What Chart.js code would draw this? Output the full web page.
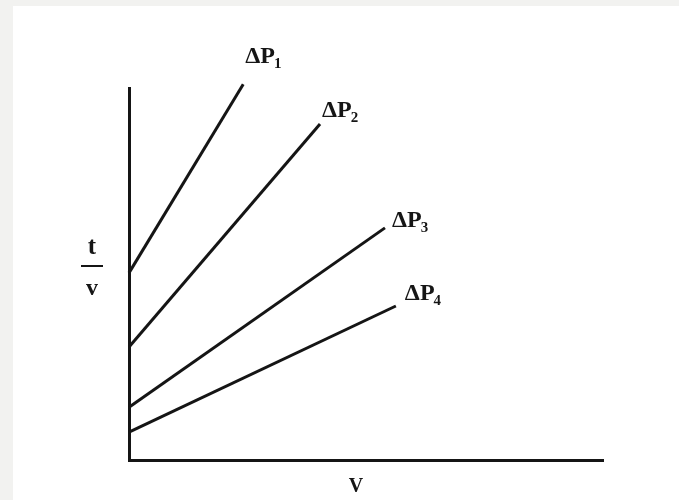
<!DOCTYPE html>
<html>
<head>
<meta charset="utf-8">
<script src="https://cdn.jsdelivr.net/npm/chart.js@4"></script>
<style>
  html, body { margin: 0; padding: 0; background: #f2f2f0; }
  #wrap { position: absolute; left: 0; top: 0; width: 679px; height: 500px; }
</style>
</head>
<body>
<div id="wrap"><canvas id="myChart" width="679" height="500"></canvas></div>
<script>
// datos: cada recta va desde el eje t/v hasta su extremo
const subscripts = ['1', '2', '3', '4'];
const dp1 = [{ x: 0, y: 5.03 }, { x: 2.41, y: 10.1 }];
const dp2 = [{ x: 0, y: 3.04 }, { x: 4.03, y: 9.03 }];
const dp3 = [{ x: 0, y: 1.42 }, { x: 5.40, y: 6.24 }];
const dp4 = [{ x: 0, y: 0.75 }, { x: 5.63, y: 4.14 }];
const series = [dp1, dp2, dp3, dp4];

// desplazamiento de cada etiqueta respecto al extremo de su recta (px)
const labelOffsets = [[2, -21], [2, -7], [7, -1], [9, -6]];

const ink = '#151515';

const paperPlugin = {
    id: 'paper',
    beforeDraw(chart) {
        const ctx = chart.ctx;
        ctx.save();
        ctx.fillStyle = '#f2f2f0';
        ctx.fillRect(0, 0, chart.width, chart.height);
        ctx.fillStyle = '#ffffff';
        ctx.fillRect(13, 6, chart.width - 13, chart.height - 6);
        ctx.restore();
    }
};

const labelsPlugin = {
    id: 'lineLabels',
    afterDatasetsDraw(chart) {
        const ctx = chart.ctx;
        const xs = chart.scales.x, ys = chart.scales.y;
        ctx.save();
        ctx.fillStyle = ink;
        ctx.textBaseline = 'alphabetic';
        ctx.textAlign = 'left';
        series.forEach((pts, i) => {
            const end = pts[pts.length - 1];
            const px = xs.getPixelForValue(end.x) + labelOffsets[i][0];
            const py = ys.getPixelForValue(end.y) + labelOffsets[i][1];
            ctx.font = 'bold 24px "Liberation Serif", "Times New Roman", serif';
            ctx.fillText('ΔP', px, py);
            const w = ctx.measureText('ΔP').width;
            ctx.font = 'bold 15px "Liberation Serif", "Times New Roman", serif';
            ctx.fillText(subscripts[i], px + w - 1, py + 5);
        });

        // titulo eje y: t / v
        const area = chart.chartArea;
        const cx = area.left - 37;
        const cy = 266;
        ctx.textAlign = 'center';
        ctx.font = 'bold 25px "Liberation Serif", "Times New Roman", serif';
        ctx.fillText('t', cx, cy - 12);
        ctx.font = 'bold 24px "Liberation Serif", "Times New Roman", serif';
        ctx.fillText('v', cx, cy + 29);
        ctx.fillRect(cx - 11, cy - 1, 22, 2);

        // titulo eje x: V
        ctx.font = 'bold 20px "Liberation Serif", "Times New Roman", serif';
        ctx.fillText('V', (area.left + area.right) / 2 - 10, area.bottom + 32);
        ctx.restore();
    }
};

const ctx = document.getElementById('myChart').getContext('2d');
new Chart(ctx, {
    type: 'scatter',
    data: {
        datasets: series.map((pts, i) => ({
            label: 'ΔP' + subscripts[i],
            data: pts,
            showLine: true,
            borderColor: ink,
            borderWidth: 3,
            pointRadius: 0,
            clip: false
        }))
    },
    options: {
        responsive: false,
        animation: false,
        layout: { padding: { left: 129, top: 88, right: 76, bottom: 40 } },
        plugins: { legend: { display: false }, tooltip: { enabled: false } },
        scales: {
            x: {
                min: 0, max: 10,
                ticks: { display: false },
                grid: { display: false, drawTicks: false },
                border: { display: true, color: ink, width: 3 }
            },
            y: {
                min: 0, max: 10,
                ticks: { display: false },
                grid: { display: false, drawTicks: false },
                border: { display: true, color: ink, width: 3 }
            }
        }
    },
    plugins: [paperPlugin, labelsPlugin]
});
</script>
</body>
</html>
